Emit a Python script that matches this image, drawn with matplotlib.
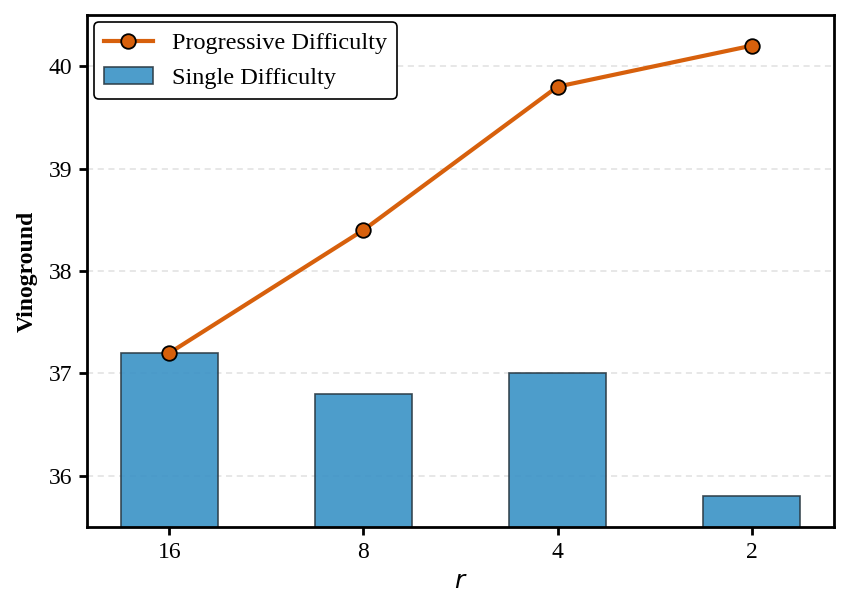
import matplotlib as mpl
mpl.use('Agg')
import matplotlib.pyplot as plt
import numpy as np

plt.rcParams['font.family'] = ['Liberation Serif', 'DejaVu Serif']
plt.rcParams['mathtext.fontset'] = 'dejavusans'

r_labels = ['16', '8', '4', '2']
single = [37.2, 36.8, 37.0, 35.8]
progressive = [37.2, 38.4, 39.8, 40.2]

fig = plt.figure(figsize=(8.48, 6.12), dpi=100)
ax = fig.add_axes([0.1026, 0.1389, 0.8809, 0.8366])

x = np.arange(len(r_labels))
ax.bar(x, single, width=0.5, color='#3a92c6', alpha=0.9, edgecolor='#2b3a44',
       linewidth=1.2, label='Single Difficulty', zorder=2)
ax.plot(x, progressive, color='#d7600c', linewidth=3, marker='o',
        markersize=10.5, markerfacecolor='#d7600c', markeredgecolor='black',
        markeredgewidth=1.3, label='Progressive Difficulty', zorder=3)

ax.set_ylim(35.5, 40.5)
ax.set_yticks([36, 37, 38, 39, 40])
ax.set_xticks(x)
ax.set_xticklabels(r_labels)
ax.yaxis.grid(True, linestyle=(0, (4, 3)), color='#e0e0e0', linewidth=1.1, zorder=0)
ax.set_axisbelow(True)

for s in ax.spines.values():
    s.set_linewidth(2)
ax.tick_params(axis='both', labelsize=17, width=2, length=5.5, pad=5)

ax.set_xlabel('$r$', fontsize=18, labelpad=6)
ax.set_ylabel('Vinoground', fontsize=17, fontweight='bold', labelpad=8)

leg = ax.legend(loc='upper left', fontsize=17.5, frameon=True, fancybox=True,
                framealpha=1, edgecolor='black', borderaxespad=0.3,
                labelspacing=0.55)
leg.get_frame().set_linewidth(1.2)

fig.savefig('out.png', dpi=100)
